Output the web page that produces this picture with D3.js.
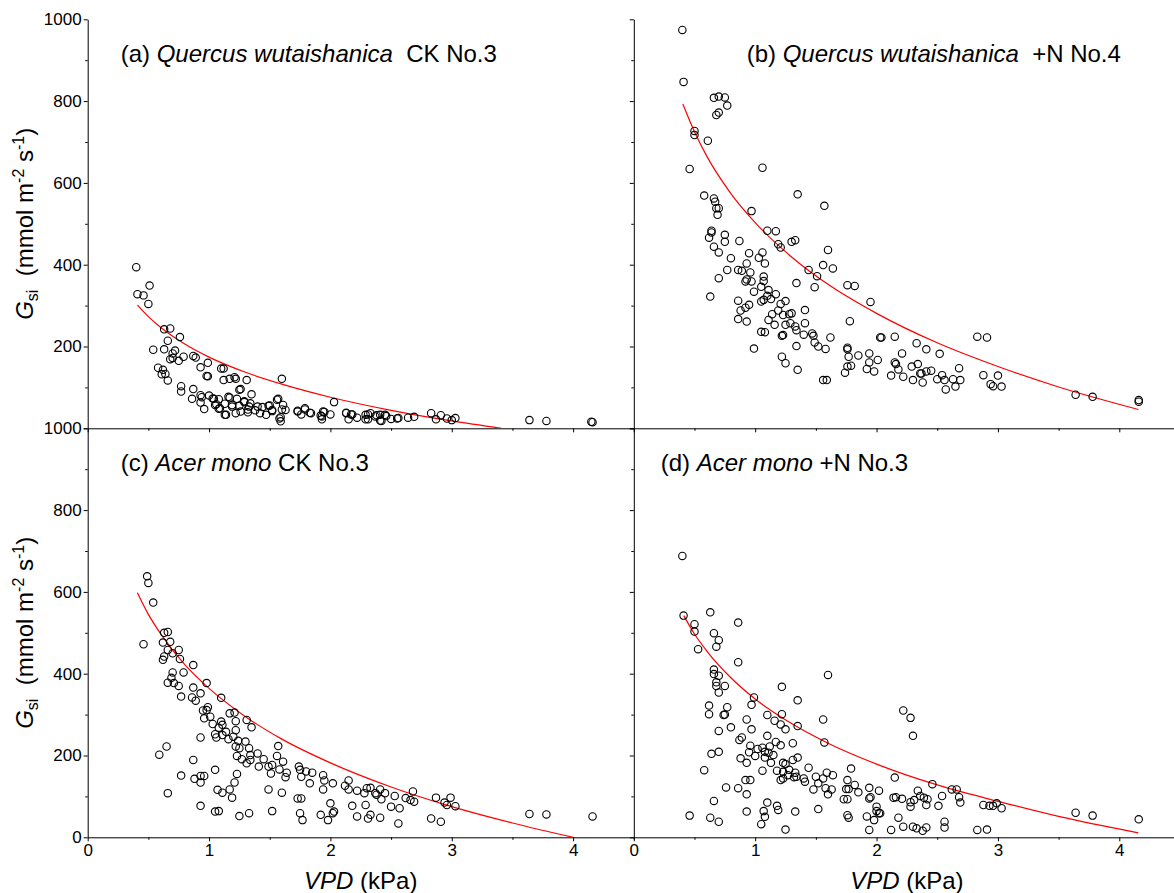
<!DOCTYPE html>
<html>
<head>
<meta charset="utf-8">
<script src="https://cdn.jsdelivr.net/npm/d3@7"></script>
<style>
	body { margin:0; background:#fff; }
	svg { display:block; font-family:"Liberation Sans", Arial, sans-serif; }
	text { white-space:pre; }
</style>
</head>
<body>
<div id="mainchart"></div>
<script>

// Datos: [VPD (kPa), Gsi (mmol m-2 s-1)]
// ===================

// (a) Quercus wutaishanica CK No.3
var qwCK = [
	[0.40,394],[0.41,328],[0.46,325],[0.51,349],[0.50,304],[0.54,192],[0.63,193],[0.63,242],[0.68,244],[0.76,223],
	[0.66,214],[0.70,183],[0.70,172],[0.68,169],[0.75,165],[0.79,175],[0.87,177],[0.89,173],[0.93,149],[0.99,160],
	[0.58,148],[0.62,143],[0.64,133],[0.66,117],[0.61,132],[0.77,103],[0.77,90],[0.87,96],[0.86,72],[0.93,81],
	[0.94,76],[0.93,63],[0.96,47],[0.98,128],[0.99,127],[1.10,146],[1.12,146],[1.12,118],[1.17,121],[1.21,125],
	[1.22,121],[1.31,118],[1.26,96],[1.03,73],[1.08,71],[1.05,57],[1.08,48],[1.13,60],[1.14,33],[1.17,75],
	[1.19,57],[1.23,72],[1.22,37],[1.25,55],[1.29,64],[1.33,53],[1.35,83],[1.34,61],[1.32,39],[1.40,53],
	[1.44,52],[1.42,37],[1.47,33],[1.49,55],[1.52,45],[1.57,72],[1.60,121],[1.61,57],[1.60,46],[1.63,45],
	[1.59,27],[1.59,17],[1.73,43],[1.76,34],[1.79,46],[1.84,37],[1.93,29],[1.94,41],[1.93,22],[2.03,64],
	[2.00,34],[2.13,37],[2.15,22],[2.18,34],[2.22,26],[2.29,33],[2.31,22],[2.33,37],[2.37,29],[2.42,18],
	[2.41,33],[2.46,30],[2.50,23],[2.55,24],[2.64,26],[2.69,28],[2.83,37],[2.87,22],[2.91,32],[2.96,24],
	[3.00,20],[3.03,25],[3.64,20],[3.78,18],[4.16,15],[4.15,16],
	[1.04,72],[1.06,59],[1.09,49],[1.13,33],[1.16,77],[1.19,53],[1.25,94],[1.26,41],[1.29,66],[1.32,46],
	[1.50,56],[1.52,42],[1.56,70],[1.58,24],[1.73,41],[1.79,49],[1.83,38],[1.92,31],[1.95,40],[2.13,38],
	[2.17,34],[2.29,22],[2.31,34],[2.38,32],[2.41,19],[2.45,33],[2.56,25],[0.72,190],[1.00,80],[1.38,44]
];

// (b) Quercus wutaishanica +N No.4
var qwN = [
	[0.40,974],[0.41,847],[0.66,808],[0.70,811],[0.75,809],[0.77,789],[0.68,766],[0.70,772],[0.50,727],[0.50,717],
	[0.61,703],[0.46,634],[1.06,637],[0.58,569],[0.66,562],[0.67,554],[0.68,538],[0.70,538],[0.69,522],[1.35,572],
	[1.57,544],[0.97,531],[0.64,483],[0.64,479],[0.62,466],[0.75,473],[0.75,456],[0.66,444],[0.70,430],[0.87,458],
	[0.80,416],[0.77,387],[0.70,367],[0.63,322],[1.10,483],[1.17,482],[1.19,450],[1.21,442],[1.30,456],[1.33,460],
	[1.06,430],[1.03,417],[1.08,403],[0.95,428],[0.93,403],[0.86,387],[0.89,385],[0.96,381],[0.93,364],[0.97,359],
	[0.92,359],[1.07,371],[1.07,360],[1.05,346],[0.99,334],[1.11,338],[1.10,324],[1.13,316],[1.17,328],[1.05,310],
	[1.07,314],[0.95,302],[0.86,312],[0.88,288],[0.92,295],[0.86,267],[0.93,261],[1.21,304],[1.25,311],[1.19,288],
	[1.14,279],[1.23,277],[1.30,281],[1.28,279],[1.11,265],[1.16,253],[1.25,253],[1.29,257],[1.33,249],[1.34,240],
	[1.41,289],[1.41,257],[1.34,355],[1.44,387],[1.51,372],[1.49,345],[1.56,399],[1.60,436],[1.64,391],[1.76,350],
	[1.82,348],[1.95,309],[1.05,236],[1.08,235],[1.22,226],[1.23,228],[1.40,229],[1.47,232],[1.48,226],[1.49,210],
	[1.52,200],[1.58,194],[1.62,222],[1.34,201],[0.99,195],[1.22,175],[1.25,159],[1.35,143],[1.56,118],[1.59,118],
	[1.76,197],[1.76,193],[1.78,262],[1.77,175],[1.79,153],[1.76,151],[1.74,136],[1.85,178],[1.92,145],[1.94,161],
	[1.94,183],[1.98,139],[2.01,167],[2.03,222],[2.04,222],[2.15,224],[2.15,161],[2.16,157],[2.18,144],[2.21,183],
	[2.12,129],[2.22,126],[2.29,151],[2.33,208],[2.34,157],[2.30,118],[2.36,134],[2.38,112],[2.41,193],[2.45,141],
	[2.41,139],[2.37,134],[2.52,182],[2.50,120],[2.54,130],[2.56,118],[2.57,95],[2.63,120],[2.65,102],[2.68,147],
	[2.69,118],[2.83,224],[2.91,222],[2.88,130],[2.94,108],[2.96,103],[3.00,129],[3.03,102],[3.64,82],[3.78,77],
	[4.16,69],[4.16,65]
];

// (c) Acer mono CK No.3
var amCK = [
	[0.49,638],[0.50,622],[0.54,574],[0.46,472],[0.59,202],[0.65,222],[0.66,108],[0.63,500],[0.66,502],[0.62,476],
	[0.68,478],[0.63,442],[0.62,434],[0.66,458],[0.70,450],[0.75,458],[0.76,436],[0.70,403],[0.69,390],[0.66,378],
	[0.71,377],[0.75,370],[0.77,344],[0.79,403],[0.87,421],[0.87,366],[0.86,342],[0.89,334],[0.93,352],[0.98,377],
	[0.95,310],[0.96,291],[0.99,318],[0.98,311],[1.01,295],[1.03,277],[1.10,341],[1.05,252],[1.06,244],[1.08,268],
	[1.10,283],[1.11,275],[1.14,258],[1.17,303],[1.21,305],[1.22,284],[1.22,262],[1.20,246],[1.16,240],[1.11,250],
	[1.24,236],[1.22,222],[1.25,218],[1.23,199],[1.31,287],[1.35,269],[1.30,234],[1.33,218],[1.34,201],[1.40,205],
	[1.45,191],[1.34,189],[1.31,181],[1.27,191],[1.41,173],[1.49,173],[1.52,177],[1.57,223],[1.56,199],[1.61,185],
	[1.58,166],[1.51,156],[1.64,158],[1.63,147],[1.60,109],[1.49,117],[1.52,64],[0.93,244],[0.87,189],[0.88,143],
	[0.93,150],[0.96,150],[0.93,134],[0.93,77],[0.77,151],[1.05,165],[1.07,116],[1.11,109],[1.05,63],[1.08,64],
	[1.17,117],[1.19,97],[1.21,134],[1.23,155],[1.25,52],[1.33,59],[1.74,173],[1.75,165],[1.76,148],[1.80,161],
	[1.76,95],[1.73,95],[1.75,59],[1.77,42],[1.83,132],[1.85,158],[1.94,152],[1.95,139],[1.94,117],[2.02,132],
	[1.92,55],[1.98,42],[2.00,83],[2.03,63],[2.02,59],[2.12,126],[2.15,139],[2.15,117],[2.22,114],[2.18,77],
	[2.22,51],[2.28,108],[2.30,120],[2.29,79],[2.33,121],[2.31,46],[2.33,55],[2.37,108],[2.38,104],[2.41,117],
	[2.42,93],[2.41,48],[2.45,108],[2.50,75],[2.53,101],[2.56,34],[2.57,71],[2.62,96],[2.66,91],[2.68,112],
	[2.69,87],[2.83,46],[2.87,97],[2.91,38],[2.94,85],[2.96,79],[2.99,97],[3.03,76],[3.64,57],[3.78,56],
	[4.16,51]
];

// (d) Acer mono +N No.3
var amN = [
	[0.40,688],[0.41,542],[0.46,53],[0.50,521],[0.50,503],[0.53,460],[0.58,164],[0.63,550],[0.66,499],[0.70,482],
	[0.68,466],[0.66,410],[0.66,399],[0.70,395],[0.68,379],[0.68,370],[0.75,370],[0.70,354],[0.62,322],[0.62,301],
	[0.77,318],[0.75,300],[0.74,299],[0.80,269],[0.70,260],[0.70,209],[0.64,204],[0.86,525],[0.86,428],[0.66,89],
	[0.63,48],[0.70,38],[0.76,122],[0.86,120],[0.87,238],[0.89,244],[0.88,193],[0.93,182],[0.92,140],[0.96,140],
	[0.93,105],[0.93,63],[0.93,288],[0.97,324],[0.99,342],[0.97,264],[0.96,224],[0.95,208],[1.00,199],[1.02,216],
	[1.06,219],[1.06,163],[1.08,209],[1.08,195],[1.11,207],[1.10,248],[1.10,299],[1.12,222],[1.15,201],[1.13,182],
	[1.16,285],[1.21,276],[1.22,301],[1.22,368],[1.21,225],[1.17,233],[1.25,264],[1.31,230],[1.31,189],[1.35,195],
	[1.35,272],[1.35,335],[1.23,182],[1.25,179],[1.18,163],[1.23,160],[1.21,140],[1.23,144],[1.28,165],[1.33,158],
	[1.27,152],[1.32,147],[1.34,148],[1.40,144],[1.44,170],[1.41,136],[1.48,117],[1.52,132],[1.50,148],[1.56,144],
	[1.59,158],[1.64,152],[1.58,120],[1.60,105],[1.63,117],[1.56,288],[1.57,232],[1.60,397],[1.52,69],[1.33,63],
	[1.25,19],[1.19,67],[1.18,77],[1.10,85],[1.07,64],[1.08,50],[1.05,32],[1.79,168],[1.76,140],[1.75,118],
	[1.77,118],[1.73,93],[1.76,93],[1.82,128],[1.85,110],[1.76,54],[1.77,48],[1.92,51],[1.94,121],[1.94,95],
	[1.95,98],[1.94,18],[1.98,42],[2.00,75],[2.00,64],[2.02,59],[2.03,59],[2.02,114],[2.12,18],[2.15,146],
	[2.14,97],[2.16,98],[2.18,48],[2.21,94],[2.22,26],[2.22,310],[2.28,292],[2.30,248],[2.28,86],[2.28,75],
	[2.31,91],[2.34,114],[2.36,101],[2.39,97],[2.42,93],[2.41,79],[2.30,26],[2.33,22],[2.38,16],[2.41,24],
	[2.46,130],[2.51,77],[2.54,101],[2.56,38],[2.56,24],[2.62,117],[2.66,117],[2.68,98],[2.69,85],[2.83,18],
	[2.88,79],[2.91,19],[2.93,77],[2.96,77],[2.99,83],[3.03,71],[3.64,60],[3.78,53],[4.16,44]
];

// Curvas de ajuste: [VPD, Gsi]
var fitQwCK = [[0.41,301],[0.5,273],[0.6,247],[0.8,206],[1.0,174],[1.3,137],[1.6,108],[2.0,76],[2.5,44],[3.0,18],[3.41,0]];
var fitQwN  = [[0.404,793],[0.5,725],[0.6,666],[0.8,574],[1.0,503],[1.3,419],[1.6,352],[2.0,281],[2.5,209],[3.0,151],[3.5,101],[4.157,46]];
var fitAmCK = [[0.409,598],[0.5,545],[0.6,498],[0.8,422],[1.0,364],[1.3,295],[1.6,240],[2.0,182],[2.5,123],[3.0,75],[3.5,35],[4.0,0]];
var fitAmN  = [[0.412,542],[0.5,497],[0.6,456],[0.8,390],[1.0,338],[1.3,278],[1.6,230],[2.0,179],[2.5,128],[3.0,88],[3.5,51],[4.156,11]];

// Ticks
var xTicks = [0, 1, 2, 3, 4];
var xMinor = [0.5, 1.5, 2.5, 3.5, 4.5];
var yTicks = [0, 200, 400, 600, 800, 1000];
var yMinor = [100, 300, 500, 700, 900];

// Etiquetas de paneles: [prefijo, especie (italica), tratamiento]
var labelA = ["(a) ", "Quercus wutaishanica", "  CK No.3"];
var labelB = ["(b) ", "Quercus wutaishanica", "  +N No.4"];
var labelC = ["(c) ", "Acer mono", " CK No.3"];
var labelD = ["(d) ", "Acer mono", " +N No.3"];


// Grafico
// ===================
var width = 1174, height = 893;

var svg = d3.select("#mainchart").append("svg")
	.attr("width", width)
	.attr("height", height);

// Escalas compartidas
var xDomain = [0, 4.5], yDomain = [0, 1000];
var xLeft  = d3.scaleLinear().domain(xDomain).range([87.7, 633.8]);
var xRight = d3.scaleLinear().domain(xDomain).range([633.8, 1180]);
var yTop    = d3.scaleLinear().domain(yDomain).range([428.3, 19.3]);
var yBottom = d3.scaleLinear().domain(yDomain).range([837.3, 428.3]);

// formato de ticks y: en el panel de arriba el "0" queda tapado por el "1000" de abajo
var fmtTop = function(d) { return d === 0 ? "" : d; };
var fmtBottom = function(d) { return d; };

var panels = [
	{id:"a", data:qwCK, fit:fitQwCK, x:xLeft,  y:yTop,    label:labelA, lx:120.7, xlabels:false, ylabels:fmtTop},
	{id:"b", data:qwN,  fit:fitQwN,  x:xRight, y:yTop,    label:labelB, lx:746.7, xlabels:false, ylabels:null},
	{id:"c", data:amCK, fit:fitAmCK, x:xLeft,  y:yBottom, label:labelC, lx:120.7, xlabels:true,  ylabels:fmtBottom},
	{id:"d", data:amN,  fit:fitAmN,  x:xRight, y:yBottom, label:labelD, lx:660.7, xlabels:true,  ylabels:null}
];

panels.forEach(function(p) {
	var g = svg.append("g").attr("class", "panel-" + p.id);
	var x0 = p.x(0), x1 = p.x(4.5), y0 = p.y(0), y1 = p.y(1000);

	// clip para la curva
	svg.append("clipPath").attr("id", "clip-" + p.id)
		.append("rect")
		.attr("x", x0).attr("y", y1)
		.attr("width", x1 - x0).attr("height", y0 - y1);

	// eje x
	g.append("g")
		.attr("transform", "translate(0," + y0 + ")")
		.call(d3.axisBottom(p.x).tickValues(xTicks).tickSize(4).tickSizeOuter(0).tickPadding(3)
			.tickFormat(p.xlabels ? d3.format("d") : ""));
	g.append("g")
		.attr("transform", "translate(0," + y0 + ")")
		.call(d3.axisBottom(p.x).tickValues(xMinor).tickSize(2.5).tickSizeOuter(0).tickFormat(""))
		.select(".domain").remove();

	// eje y
	g.append("g")
		.attr("transform", "translate(" + x0 + ",0)")
		.call(d3.axisLeft(p.y).tickValues(yTicks).tickSize(4).tickSizeOuter(0).tickPadding(2)
			.tickFormat(p.ylabels ? p.ylabels : ""));
	g.append("g")
		.attr("transform", "translate(" + x0 + ",0)")
		.call(d3.axisLeft(p.y).tickValues(yMinor).tickSize(2.5).tickSizeOuter(0).tickFormat(""))
		.select(".domain").remove();

	g.selectAll(".tick text")
		.attr("font-family", "Liberation Sans, Arial, sans-serif")
		.attr("font-size", 17)
		.attr("fill", "#000");
	g.selectAll(".domain, .tick line").attr("stroke", "#000").attr("stroke-width", 1);

	// curva de ajuste
	var line = d3.line()
		.x(function(d) { return p.x(d[0]); })
		.y(function(d) { return p.y(d[1]); })
		.curve(d3.curveMonotoneX);

	g.append("path")
		.datum(p.fit)
		.attr("clip-path", "url(#clip-" + p.id + ")")
		.attr("d", line)
		.attr("fill", "none")
		.attr("stroke", "#ff0000")
		.attr("stroke-width", 1.2);

	// puntos
	g.selectAll("circle")
		.data(p.data)
		.enter()
			.append("circle")
			.attr("cx", function(d) { return p.x(d[0]); })
			.attr("cy", function(d) { return p.y(d[1]); })
			.attr("r", 3.7)
			.attr("fill", "none")
			.attr("stroke", "#000")
			.attr("stroke-width", 1.1);

	// etiqueta del panel
	var t = g.append("text")
		.attr("x", p.lx)
		.attr("y", y1 + 42.5)
		.attr("font-size", 24)
		.attr("fill", "#000");
	t.append("tspan").text(p.label[0]);
	t.append("tspan").attr("font-style", "italic").text(p.label[1]);
	t.append("tspan").text(p.label[2]);

	// titulo eje x (solo abajo)
	if (p.xlabels) {
		var tx = g.append("text")
			.attr("x", (x0 + x1) / 2)
			.attr("y", 889)
			.attr("text-anchor", "middle")
			.attr("font-size", 24)
			.attr("fill", "#000");
		tx.append("tspan").attr("font-style", "italic").text("VPD");
		tx.append("tspan").text(" (kPa)");
	}

	// titulo eje y (solo izquierda)
	if (p.ylabels) {
		var ty = g.append("text")
			.attr("transform", "translate(33," + ((y0 + y1) / 2) + ") rotate(-90)")
			.attr("text-anchor", "middle")
			.attr("font-size", 24)
			.attr("fill", "#000");
		ty.append("tspan").attr("font-style", "italic").text("G");
		ty.append("tspan").attr("font-size", 16).attr("dy", 5).text("si");
		ty.append("tspan").attr("dy", -5).text("  (mmol m");
		ty.append("tspan").attr("font-size", 16).attr("dy", -9).text("-2");
		ty.append("tspan").attr("dy", 9).text(" s");
		ty.append("tspan").attr("font-size", 16).attr("dy", -9).text("-1");
		ty.append("tspan").attr("dy", 9).text(")");
	}
});

</script>
</body>
</html>
